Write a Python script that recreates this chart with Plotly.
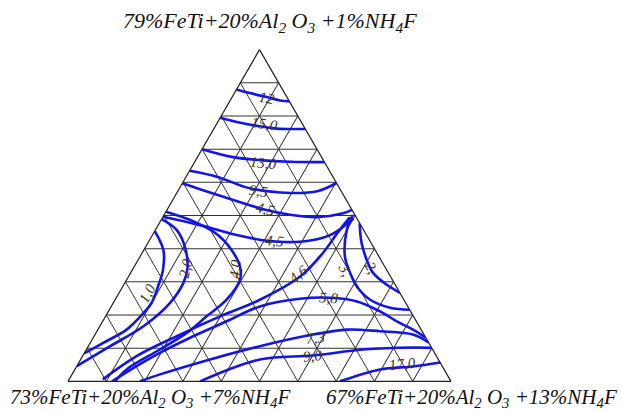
import plotly.graph_objects as go

# ---- data: contour lines in ternary grid units (a = top, c = bottom-right), sum = 10 ----
c12_a = [8.80, 8.69, 8.57, 8.47, 8.44]
c12_c = [0.00, 0.41, 0.90, 1.30, 1.56]
c150_a = [7.95, 7.82, 7.72, 7.62, 7.61]
c150_c = [0.00, 0.50, 0.98, 1.64, 2.39]
c130_a = [7.00, 6.76, 6.67, 6.62, 6.61]
c130_c = [0.00, 0.93, 1.68, 2.49, 3.39]
c95_a = [6.35, 6.17, 5.82, 5.68, 5.74, 5.98]
c95_c = [0.00, 0.80, 1.84, 2.96, 3.66, 4.02]
c45u_a = [5.97, 5.79, 5.47, 5.19, 5.02, 4.95, 5.07, 5.17]
c45u_c = [0.00, 0.55, 1.58, 2.50, 3.29, 4.02, 4.65, 4.83]
c45l_a = [4.96, 4.71, 4.41, 4.24, 4.21, 4.41, 4.91]
c45l_c = [0.00, 1.09, 2.20, 3.07, 3.95, 4.64, 5.00]
c10_a = [4.53, 3.96, 3.36, 2.86, 2.37, 2.06, 1.56, 1.16, 0.84]
c10_c = [0.00, 0.51, 0.80, 0.92, 1.00, 0.94, 0.75, 0.34, 0.00]
c20_a = [4.89, 4.56, 4.06, 3.42, 2.96, 2.36, 1.66, 1.06, 0.46]
c20_c = [0.00, 0.56, 1.02, 1.41, 1.53, 1.48, 1.14, 0.57, 0.00]
c40_a = [5.11, 4.80, 4.41, 3.96, 3.46, 3.06, 2.46, 1.96, 1.46, 0.96, 0.36, 0.00]
c40_c = [0.00, 0.92, 1.71, 2.29, 2.76, 2.96, 2.91, 2.64, 2.37, 1.92, 1.35, 1.23]
c46_a = [0.06, 0.76, 1.36, 1.96, 2.46, 3.16, 3.87, 4.50, 4.95]
c46_c = [0.88, 1.41, 2.16, 2.99, 3.78, 4.48, 4.72, 4.80, 4.89]
c58_a = [0.00, 0.46, 0.86, 1.36, 1.81, 2.26, 2.49, 2.52, 2.41, 2.11, 1.81, 1.56, 1.32]
c58_c = [1.15, 1.56, 1.97, 2.59, 3.24, 3.88, 4.81, 5.58, 6.34, 7.09, 7.68, 8.23, 8.68]
c73_a = [0.00, 0.21, 0.66, 1.06, 1.41, 1.56, 1.51, 1.41, 1.17]
c73_c = [1.88, 2.30, 3.38, 4.48, 5.69, 6.50, 7.39, 8.30, 8.83]
c90_a = [0.00, 0.66, 0.78, 0.96, 1.02, 1.01]
c90_c = [3.45, 4.68, 6.01, 7.22, 8.50, 8.99]
c170_a = [0.00, 0.36, 0.45, 0.57]
c170_c = [7.10, 7.97, 8.78, 9.43]
cr1_a = [5.02, 4.56, 3.76, 3.27, 2.86, 2.46, 2.22, 2.16]
cr1_c = [4.93, 5.00, 5.35, 5.73, 6.11, 6.66, 7.30, 7.84]
cr2_a = [4.77, 4.17, 3.66, 3.27, 2.91, 2.67]
cr2_c = [5.23, 5.58, 5.97, 6.33, 6.87, 7.33]

curves = [(c12_a, c12_c), (c150_a, c150_c), (c130_a, c130_c), (c95_a, c95_c),
          (c45u_a, c45u_c), (c45l_a, c45l_c), (c10_a, c10_c), (c20_a, c20_c),
          (c40_a, c40_c), (c46_a, c46_c), (c58_a, c58_c), (c73_a, c73_c),
          (c90_a, c90_c), (c170_a, c170_c), (cr1_a, cr1_c), (cr2_a, cr2_c)]

# contour labels: text, a, c, angle
lab_text = ["12", "15,0", "13,0", "9,5", "4,5", "4,5", "1,0", "2,0", "4,0", "4,6",
            "5,8", "7,3", "9,0", "17,0", "3,", "2,"]
lab_a = [8.57, 7.78, 6.61, 5.77, 5.23, 4.26, 2.67, 3.42, 3.42, 3.25, 2.52, 1.32, 0.77, 0.55, 3.38, 3.45]
lab_c = [0.90, 1.25, 1.79, 2.10, 2.53, 3.27, 0.75, 1.35, 2.65, 4.40, 5.55, 5.80, 6.00, 8.45, 5.55, 6.20]
lab_ang = [12, 8, 5, 8, 14, 6, -62, -78, -85, -40, 4, -6, -5, -6, 62, 62]

SUM = 10.0
DX = (68 / 622, 451 / 622)
DY = (30 / 412, 363 / 412)

fig = go.Figure()
for aa, cc in curves:
    bb = [max(SUM - x - y, 0.0) for x, y in zip(aa, cc)]
    fig.add_trace(go.Scatterternary(a=aa, b=bb, c=cc, mode="lines",
                                    line=dict(color="#1414e6", width=2.6, shape="spline"),
                                    hoverinfo="skip", showlegend=False))


def to_paper(a, c):
    x = DX[0] + (DX[1] - DX[0]) * (c + a / 2) / SUM
    y = DY[0] + (DY[1] - DY[0]) * (a / SUM) * (331.7 / 333)
    return x, y


anns = []
for t, a, c, ang in zip(lab_text, lab_a, lab_c, lab_ang):
    x, y = to_paper(a, c)
    anns.append(dict(x=x, y=y, xref="paper", yref="paper", text="<i>" + t + "</i>", showarrow=False,
                     xanchor="center", yanchor="middle",
                     textangle=ang, font=dict(family="Liberation Serif", size=15, color="#3a3424")))

titles = [
    ("<i>79%FeTi+20%Al<sub>2</sub> O<sub>3</sub> +1%NH<sub>4</sub>F</i>", 270, 22, 22),
    ("<i>73%FeTi+20%Al<sub>2</sub> O<sub>3</sub> +7%NH<sub>4</sub>F</i>", 150, 398, 21),
    ("<i>67%FeTi+20%Al<sub>2</sub> O<sub>3</sub> +13%NH<sub>4</sub>F</i>", 471, 398, 21),
]
for t, px, py, fs in titles:
    anns.append(dict(x=px / 622, y=1 - py / 412, xref="paper", yref="paper", showarrow=False,
                     xanchor="center", yanchor="middle", text=t,
                     font=dict(family="Liberation Serif", size=fs, color="#111111")))

ax = dict(showticklabels=False, ticks="", title="", dtick=1, showgrid=True,
          gridcolor="#333333", gridwidth=1, linecolor="#222222", linewidth=1.2, showline=True)
fig.update_layout(
    width=622, height=412, margin=dict(l=0, r=0, t=0, b=0),
    paper_bgcolor="white", plot_bgcolor="white",
    ternary=dict(sum=SUM, domain=dict(x=list(DX), y=list(DY)), bgcolor="white",
                 aaxis=ax, baxis=ax, caxis=ax),
    annotations=anns,
)
fig.write_html("out.html", config={"displayModeBar": False},
               post_script="document.body.style.margin='0px';document.body.style.overflow='hidden';")
